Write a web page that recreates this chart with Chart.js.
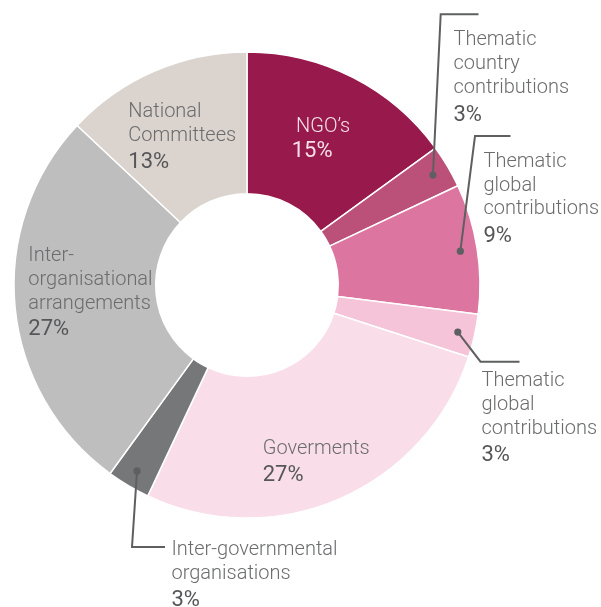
<!DOCTYPE html>
<html>
<head>
<meta charset="utf-8">
<script src="https://cdn.jsdelivr.net/npm/chart.js@4/dist/chart.umd.min.js"></script>
<style>
  html, body { margin: 0; padding: 0; background: #ffffff; }
  canvas { display: block; }
</style>
</head>
<body>
<canvas id="chart" width="601" height="607"></canvas>
<script>
// Funding sources, share of total income (%)
const categories = [
  "NGO’s",
  "Thematic country contributions",
  "Thematic global contributions",
  "Thematic global contributions",
  "Goverments",
  "Inter-governmental organisations",
  "Inter-organisational arrangements",
  "National Committees"
];
const shares = [15, 3, 9, 3, 27, 3, 27, 13];
const sliceColors = ["#98194b", "#bb5079", "#dc76a0", "#f6c4d9", "#f9dde9", "#757779", "#bebebe", "#dbd3cd"];

// How each category name is broken over lines
const nameLines = [
  ["NGO’s"],
  ["Thematic", "country", "contributions"],
  ["Thematic", "global", "contributions"],
  ["Thematic", "global", "contributions"],
  ["Goverments"],
  ["Inter-governmental", "organisations"],
  ["Inter-", "organisational", "arrangements"],
  ["National", "Committees"]
];

// Label placement: x, first baseline y, percentage x / baseline, optional leader elbow and end
const labelPlacement = [
  { x: 296,   y: 131.7, px: 291.7, py: 157.3, light: true },
  { x: 453.5, y: 45,    px: 453.5, py: 120.5, elbow: [440.7, 14.3], end: [478.5, 14.3] },
  { x: 483.5, y: 166.7, px: 483.5, py: 241.7, elbow: [475, 136],    end: [510.5, 136] },
  { x: 481.5, y: 386,   px: 481.5, py: 460.7, elbow: [480.5, 361.7], end: [519.5, 361.7] },
  { x: 262.7, y: 454.3, px: 262.7, py: 481 },
  { x: 171.5, y: 555,   px: 171.5, py: 606,  elbow: [132, 547],     end: [165, 547] },
  { x: 28.3,  y: 261,   px: 28.3,  py: 335 },
  { x: 128.3, y: 116.7, px: 128.3, py: 168.3 }
];

const LINE_GAP = 23.8;
const NAME_FONT = "300 20px Roboto, 'Liberation Sans', sans-serif";
const PCT_FONT = "400 22px Roboto, 'Liberation Sans', sans-serif";
const NAME_COLOR = "#6b6c6e";
const PCT_COLOR = "#555658";
const LIGHT_COLOR = "#f6e1ea";
const LEADER_COLOR = "#5e5f61";

const sliceLabels = {
  id: "sliceLabels",
  afterDatasetsDraw(chart) {
    const ctx = chart.ctx;
    const meta = chart.getDatasetMeta(0);
    ctx.save();
    ctx.textAlign = "left";
    ctx.textBaseline = "alphabetic";
    meta.data.forEach((arc, i) => {
      const p = labelPlacement[i];
      // leader line from a dot inside the slice
      if (p.elbow) {
        const mid = (arc.startAngle + arc.endAngle) / 2;
        const r = arc.outerRadius - 17;
        const dx = arc.x + Math.cos(mid) * r;
        const dy = arc.y + Math.sin(mid) * r;
        ctx.strokeStyle = LEADER_COLOR;
        ctx.lineWidth = 2;
        ctx.beginPath();
        ctx.moveTo(dx, dy);
        ctx.lineTo(p.elbow[0], p.elbow[1]);
        ctx.lineTo(p.end[0], p.end[1]);
        ctx.stroke();
        ctx.fillStyle = LEADER_COLOR;
        ctx.beginPath();
        ctx.arc(dx, dy, 3.6, 0, Math.PI * 2);
        ctx.fill();
      }
      ctx.fillStyle = p.light ? LIGHT_COLOR : NAME_COLOR;
      ctx.font = NAME_FONT;
      nameLines[i].forEach((line, k) => {
        ctx.fillText(line, p.x, p.y + k * LINE_GAP);
      });
      ctx.fillStyle = p.light ? LIGHT_COLOR : PCT_COLOR;
      ctx.font = PCT_FONT;
      ctx.fillText(chart.data.datasets[0].data[i] + "%", p.px, p.py);
    });
    ctx.restore();
  }
};

new Chart(document.getElementById("chart"), {
  type: "doughnut",
  data: {
    labels: categories,
    datasets: [{
      data: shares,
      backgroundColor: sliceColors,
      borderColor: "#ffffff",
      borderWidth: 1.5,
      hoverOffset: 0
    }]
  },
  options: {
    responsive: false,
    animation: false,
    radius: 233,
    cutout: 91,
    layout: { padding: { left: 14, right: 121, top: 52, bottom: 89 } },
    plugins: {
      legend: { display: false },
      tooltip: { enabled: false }
    },
    events: []
  },
  plugins: [sliceLabels]
});
</script>
</body>
</html>
